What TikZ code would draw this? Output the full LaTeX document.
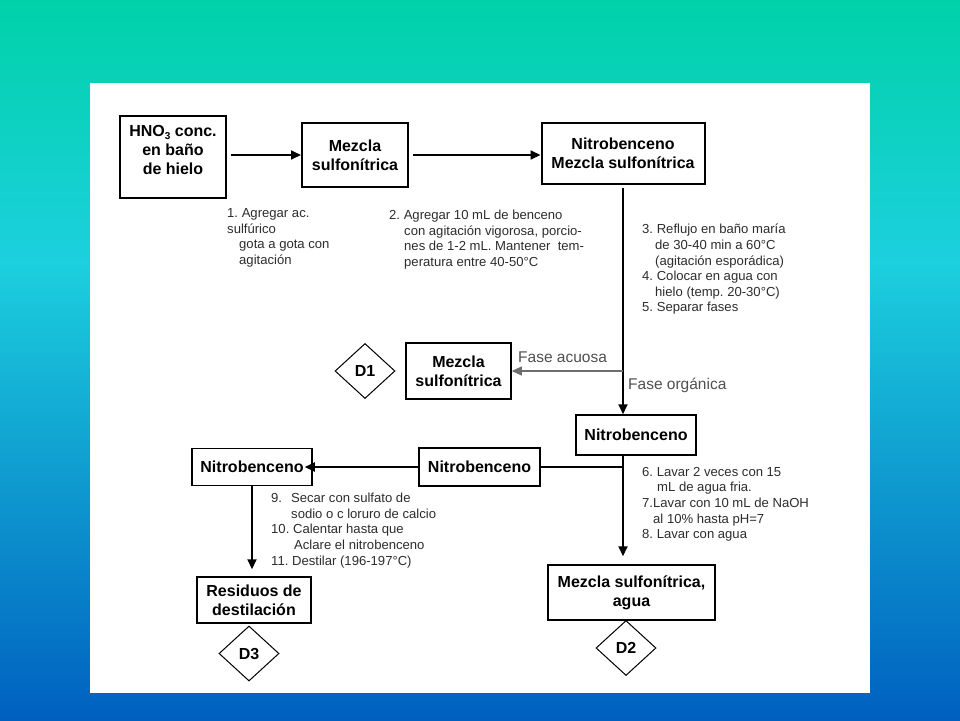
\documentclass[tikz,border=0pt]{standalone}
\usepackage{fontspec}
\setmainfont{Liberation Sans}
\usetikzlibrary{shapes.geometric,arrows.meta}
\definecolor{bgtop}{RGB}{0,210,168}
\definecolor{bgmid}{RGB}{28,208,222}
\definecolor{bgbot}{RGB}{0,96,192}
\definecolor{notegray}{RGB}{45,45,45}
\definecolor{fasegray}{RGB}{80,80,80}
\definecolor{linegray}{RGB}{110,110,110}
\frenchspacing
\begin{document}
\begin{tikzpicture}[x=1pt,y=-1pt,
  bx/.style={draw=black, line width=2pt, align=center, inner sep=0pt,
    font=\bfseries\fontsize{16}{19}\selectfont},
  thinbx/.style={bx, line width=1.5pt},
  dmd/.style={diamond, draw=black, line width=1pt, inner sep=0pt,
    minimum width=60pt, minimum height=55pt, font=\bfseries\fontsize{16}{19}\selectfont},
  note/.style={anchor=north west, inner sep=0pt, align=left, text=notegray,
    font=\fontsize{13.1}{15.6}\selectfont},
  fase/.style={anchor=base west, inner sep=0pt, text=fasegray,
    font=\fontsize{15.5}{19}\selectfont},
  conn/.style={line width=1.8pt, -{Triangle[length=10pt,width=9pt]}},
  plain/.style={line width=1.8pt}
]
\useasboundingbox (0,0) rectangle (960,720);
\shade[top color=bgtop, bottom color=bgmid] (0,0) rectangle (960,262);
\shade[top color=bgmid, bottom color=bgbot] (0,261) rectangle (960,720);
\fill[white] (90,83) rectangle (870,693);

% boxes
\node[bx, line width=2.5pt, minimum width=106pt, minimum height=82pt, text depth=14pt] (b1) at (173,157)
  {HNO\raisebox{-3pt}{\fontsize{10}{10}\selectfont 3} conc.\\en baño\\de hielo};
\node[bx, minimum width=106pt, minimum height=64pt] (b2) at (355,155) {Mezcla\\sulfonítrica};
\node[bx, minimum width=163pt, minimum height=61pt] (b3) at (623,153.5) {Nitrobenceno\\Mezcla sulfonítrica};
\node[thinbx, minimum width=105pt, minimum height=56pt] (m1) at (458.5,371) {Mezcla\\sulfonítrica};
\node[dmd] (d1) at (365,371) {D1};
\node[thinbx, minimum width=120pt, minimum height=40pt] (n1) at (636,435) {Nitrobenceno};
\node[thinbx, minimum width=121pt, minimum height=38pt] (n2) at (479.5,467) {Nitrobenceno};
\node[thinbx, minimum width=120pt, minimum height=37pt] (n3) at (252,467) {Nitrobenceno};
\node[thinbx, minimum width=167pt, minimum height=55pt] (m2) at (631.5,592.5) {Mezcla sulfonítrica,\\agua};
\node[dmd] (d2) at (626,648) {D2};
\node[thinbx, minimum width=114pt, minimum height=46pt] (r1) at (254,600) {Residuos de\\destilación};
\node[dmd] (d3) at (249,653.5) {D3};

% junctions
\coordinate (j1) at (b3.south |- m1.east);
\coordinate (j2) at (b3.south |- n1.south);
\coordinate (j3) at (b3.south |- n2.east);

% connectors
\draw[conn, shorten <=4pt] (b1.east |- b2.west) -- (b2.west);
\draw[conn, shorten <=4pt] (b2.east) -- (b2.east -| b3.west);
\draw[conn, shorten <=3pt] (b3.south) -- (b3.south |- n1.north);
\draw[conn, draw=linegray, line width=1.3pt] (j1) -- (m1.east);
\draw[conn, shorten >=8pt] (j2) -- (b3.south |- m2.north);
\draw[plain] (j3) -- (n2.east);
\draw[conn] (n2.west) -- ([xshift=-8pt]n3.east |- n2.west);
\draw[conn, shorten >=7pt] (n3.south) -- (n3.south |- r1.north);

% labels
\node[fase] (fa) at (518,362) {Fase acuosa};
\node[fase] (fo) at (628,389) {Fase orgánica};

% notes
\node[note] (t1) at (227,208.5) {1. Agregar ac.\\sulfúrico\\\hspace*{12pt}gota a gota con\\\hspace*{12pt}agitación};
\node[note] (t2) at (389,210) {2. Agregar 10 mL de benceno\\\hspace*{15pt}con agitación vigorosa, porcio-\\\hspace*{15pt}nes de 1-2 mL. Mantener\ \ tem-\\\hspace*{15pt}peratura entre 40-50°C};
\node[note] (t3) at (642,224) {3. Reflujo en baño maría\\\hspace*{13pt}de 30-40 min a 60°C\\\hspace*{13pt}(agitación esporádica)\\4. Colocar en agua con\\\hspace*{13pt}hielo (temp. 20-30°C)\\5. Separar fases};
\node[note] (t6) at (642,467) {6. Lavar 2 veces con 15\\\hspace*{15pt}mL de agua fria.\\7.Lavar con 10 mL de NaOH\\\hspace*{11pt}al 10\% hasta pH=7\\8. Lavar con agua};
\node[note] (t9) at (271,493) {9.\hspace*{9pt}Secar con sulfato de\\\hspace*{20pt}sodio o c loruro de calcio\\10. Calentar hasta que\\\hspace*{23pt}Aclare el nitrobenceno\\11. Destilar (196-197°C)};
\end{tikzpicture}
\end{document}
